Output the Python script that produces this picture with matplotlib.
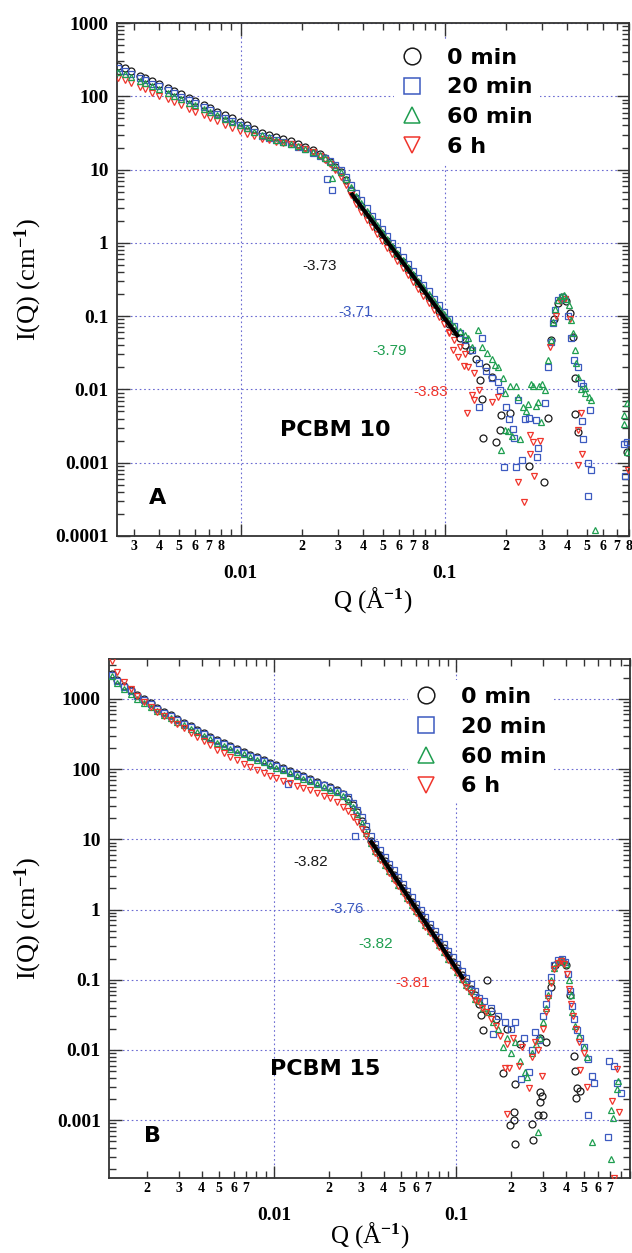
import numpy as np
import matplotlib
matplotlib.use("Agg")
import matplotlib.pyplot as plt
from matplotlib.lines import Line2D
from matplotlib.ticker import LogLocator, FixedLocator, FuncFormatter, NullFormatter


# =========================
# data : panel A (PCBM 10)
# =========================
Q_A = [0.0025, 0.0027, 0.0029, 0.0032, 0.0034, 0.0037, 0.0040, 0.0044, 0.0047, 0.0051,
       0.0056, 0.0060, 0.0066, 0.0071, 0.0077, 0.0084, 0.0091, 0.0099, 0.0107, 0.0117,
       0.0127, 0.0138, 0.0149, 0.0162, 0.0176, 0.0191, 0.0208, 0.0226, 0.0245,
       0.0260, 0.0276, 0.0292, 0.0310, 0.0328, 0.0348, 0.0369, 0.0391, 0.0415, 0.0440,
       0.0466, 0.0494, 0.0524, 0.0555, 0.0588, 0.0624, 0.0661, 0.0701, 0.0743, 0.0788,
       0.0835, 0.0885, 0.0938, 0.0995, 0.1055, 0.1118, 0.1185, 0.1256]

I_A_0MIN = [262, 240, 218, 192, 178, 160, 145, 129, 118, 106,
            94, 86, 76, 69, 62, 55, 50, 44, 40, 35.5,
            32, 29.5, 27.5, 26, 24.5, 22.5, 20.5, 18.5, 16.3,
            14.5, 12.8, 11.0, 9.2, 7.2, 5.3, 4.1, 3.2, 2.5, 2.0,
            1.62, 1.31, 1.05, 0.85, 0.68, 0.545, 0.44, 0.352, 0.283, 0.228,
            0.184, 0.147, 0.119, 0.096, 0.077, 0.062, 0.050, 0.040]
I_A_20MIN = [243, 224, 204, 180, 166, 149, 136, 121, 111, 99,
             88, 80, 71, 64, 58, 51, 46, 41, 37, 32.5,
             29, 27, 25.5, 23.5, 22, 20.5, 19, 17, 15.5,
             14.2, 12.9, 11.4, 9.8, 8.0, 6.2, 4.8, 3.8, 2.95, 2.36,
             1.91, 1.55, 1.24, 1.0, 0.80, 0.64, 0.52, 0.415, 0.334, 0.27,
             0.217, 0.174, 0.14, 0.113, 0.091, 0.073, 0.059, 0.047]
I_A_60MIN = [215, 199, 183, 163, 151, 136, 124, 111, 102, 92,
             82, 75, 67, 61, 55, 49, 44.5, 40, 36.5, 32.5,
             29.5, 27.5, 25.5, 24, 22.5, 21, 19.3, 17.5, 15.8,
             14.2, 12.6, 10.9, 9.3, 7.5, 5.8, 4.4, 3.45, 2.7, 2.16,
             1.75, 1.41, 1.13, 0.92, 0.73, 0.59, 0.475, 0.38, 0.305, 0.246,
             0.199, 0.16, 0.13, 0.106, 0.088, 0.074, 0.063, 0.055]
I_A_6H = [180, 165, 151, 134, 124, 112, 102, 91, 84, 76,
          68, 62, 55, 50, 45.5, 41, 37, 33.5, 31, 28.5,
          26.5, 25, 24, 23, 22, 20.5, 19, 17.2, 15.5,
          13.6, 11.8, 9.9, 8.0, 6.1, 4.5, 3.35, 2.6, 2.05, 1.64,
          1.33, 1.07, 0.86, 0.70, 0.56, 0.45, 0.36, 0.29, 0.232, 0.187,
          0.151, 0.12, 0.096, 0.077, 0.06, 0.048, 0.038, 0.030]

# noisy high-Q points and outliers
QX_A_0MIN = [0.133, 0.142, 0.149, 0.152, 0.154, 0.160, 0.170, 0.178, 0.186, 0.190,
             0.209, 0.260, 0.306, 0.320, 0.331, 0.345, 0.360, 0.380, 0.395, 0.410,
             0.426, 0.434, 0.437, 0.450, 0.780]
IX_A_0MIN = [0.034, 0.026, 0.0134, 0.0075, 0.0022, 0.0204, 0.015, 0.0019, 0.0028, 0.0045,
             0.0047, 0.00091, 0.00055, 0.0041, 0.047, 0.09, 0.15, 0.18, 0.16, 0.11,
             0.052, 0.0141, 0.0046, 0.0026, 0.0014]
QX_A_20MIN = [0.0265, 0.028, 0.136, 0.147, 0.147, 0.152, 0.160, 0.170, 0.183, 0.186,
              0.195, 0.200, 0.208, 0.217, 0.220, 0.224, 0.230, 0.240, 0.248, 0.260,
              0.280, 0.283, 0.287, 0.310, 0.322, 0.334, 0.340, 0.349, 0.360, 0.375,
              0.390, 0.405, 0.418, 0.430, 0.450, 0.467, 0.476, 0.517, 0.471, 0.476,
              0.503, 0.523, 0.503, 0.755, 0.770, 0.780]
IX_A_20MIN = [7.4, 5.2, 0.034, 0.0058, 0.0226, 0.050, 0.018, 0.0141, 0.0127, 0.0098,
              0.00088, 0.0058, 0.0040, 0.0029, 0.0022, 0.00088, 0.0072, 0.0011, 0.0040, 0.0041,
              0.0038, 0.0012, 0.0016, 0.0065, 0.020, 0.045, 0.080, 0.120, 0.165, 0.185,
              0.170, 0.100, 0.050, 0.025, 0.0204, 0.0121, 0.011, 0.0052, 0.0037, 0.0021,
              0.0010, 0.0008, 0.00035, 0.0018, 0.00065, 0.0019]
QX_A_60MIN = [0.028, 0.130, 0.136, 0.1465, 0.152, 0.162, 0.170, 0.177, 0.183, 0.190, 0.193,
              0.198, 0.198, 0.205, 0.209, 0.213, 0.225, 0.230, 0.234, 0.243, 0.252,
              0.257, 0.265, 0.270, 0.280, 0.287, 0.290, 0.297, 0.300, 0.310, 0.320,
              0.331, 0.340, 0.349, 0.360, 0.371, 0.384, 0.395, 0.406, 0.418, 0.426,
              0.434, 0.442, 0.451, 0.465, 0.486, 0.490, 0.513, 0.520, 0.546, 0.755,
              0.760, 0.780, 0.780]
IX_A_60MIN = [7.6, 0.050, 0.038, 0.064, 0.038, 0.031, 0.026, 0.0215, 0.020, 0.0015, 0.0141,
              0.0089, 0.0028, 0.0027, 0.011, 0.0023, 0.011, 0.008, 0.0021, 0.0058, 0.005,
              0.0064, 0.012, 0.011, 0.006, 0.0068, 0.011, 0.0036, 0.012, 0.0098, 0.025,
              0.047, 0.084, 0.127, 0.166, 0.187, 0.193, 0.174, 0.141, 0.088, 0.058,
              0.035, 0.0226, 0.0148, 0.0102, 0.0088, 0.0104, 0.0079, 0.0072, 0.00012, 0.0034,
              0.0045, 0.0065, 0.0014]
QX_A_6H = [0.105, 0.110, 0.117, 0.124, 0.129, 0.131, 0.136, 0.139, 0.140, 0.147,
           0.170, 0.183, 0.230, 0.245, 0.263, 0.263, 0.270, 0.275, 0.294, 0.330,
           0.350, 0.370, 0.390, 0.410, 0.449, 0.450, 0.467, 0.470, 0.790]
IX_A_6H = [0.058, 0.034, 0.028, 0.021, 0.0047, 0.020, 0.0084, 0.0072, 0.0165, 0.0098,
           0.0068, 0.0079, 0.00054, 0.00029, 0.0024, 0.0013, 0.0019, 0.00066, 0.0020, 0.038,
           0.10, 0.16, 0.17, 0.09, 0.00093, 0.0028, 0.0047, 0.0013, 0.0008]

FIT_A_Q = [0.0348, 0.117]
FIT_A_I = [4.8, 0.052]
SLOPES_A = ["-3.73", "-3.71", "-3.79", "-3.83"]

# =========================
# data : panel B (PCBM 15)
# =========================
Q_B = [0.00128, 0.00138, 0.00150, 0.00163, 0.00177, 0.00193, 0.0021, 0.00228, 0.00248, 0.0027,
       0.00294, 0.0032, 0.00348, 0.00378, 0.00411, 0.00447, 0.00486, 0.00529, 0.00575, 0.00625,
       0.0068, 0.0074, 0.00805, 0.00875, 0.0095, 0.0103, 0.0112, 0.0122, 0.0133, 0.0145,
       0.0158, 0.0172, 0.0187, 0.0203, 0.0221, 0.024,
       0.0255, 0.027, 0.0286, 0.0303, 0.0321, 0.034, 0.036, 0.0381, 0.0404, 0.0428,
       0.0453, 0.048, 0.0508, 0.0538, 0.057, 0.0604, 0.064, 0.0678, 0.0718, 0.076,
       0.0805, 0.0853, 0.0903, 0.0956, 0.1013, 0.1073, 0.1136, 0.1203, 0.1274]

I_B_0MIN = [2250, 1850, 1550, 1320, 1150, 1000, 860, 750, 660, 585,
            515, 455, 405, 362, 322, 287, 258, 232, 210, 192,
            175, 160, 148, 136, 124, 113, 103, 94, 86, 79,
            72, 66, 60, 55, 50, 44,
            38, 31, 24.5, 18.5, 13.5, 9.6, 7.5, 6.05, 4.85, 3.9,
            3.13, 2.51, 2.02, 1.62, 1.30, 1.04, 0.84, 0.67, 0.54, 0.434,
            0.348, 0.279, 0.225, 0.181, 0.145, 0.116, 0.093, 0.075, 0.060]
I_B_20MIN = [2200, 1800, 1500, 1280, 1110, 970, 835, 728, 640, 568,
             500, 442, 393, 351, 312, 278, 250, 225, 204, 186,
             170, 155, 143, 131, 120, 109, 100, 91, 83, 76,
             70, 64, 59, 54, 49, 44,
             40, 33, 26.5, 20.5, 15.3, 11.2, 8.6, 7.0, 5.6, 4.5,
             3.6, 2.9, 2.32, 1.86, 1.5, 1.2, 0.97, 0.77, 0.62, 0.5,
             0.4, 0.32, 0.26, 0.208, 0.167, 0.133, 0.107, 0.086, 0.069]
I_B_60MIN = [2150, 1700, 1400, 1190, 1010, 870, 755, 665, 590, 528,
             470, 418, 373, 333, 297, 265, 238, 214, 194, 177,
             162, 148, 136, 125, 115, 105, 96, 88, 80, 73,
             67, 61.5, 56, 51, 46.5, 41,
             35.5, 29, 23, 17.2, 12.4, 8.8, 6.75, 5.45, 4.37, 3.5,
             2.82, 2.26, 1.82, 1.46, 1.17, 0.94, 0.76, 0.6, 0.49, 0.39,
             0.313, 0.25, 0.2, 0.163, 0.13, 0.104, 0.084, 0.068, 0.054]
I_B_6H = [3500, 2400, 1750, 1400, 1100, 900, 770, 660, 575, 500,
          435, 380, 330, 288, 250, 218, 190, 167, 148, 133,
          119, 107, 97, 88, 80, 74, 68, 63, 58, 54,
          50, 46, 42, 38.5, 34, 29,
          25, 21, 17.5, 14, 11, 8.4, 6.4, 5.15, 4.1, 3.3,
          2.66, 2.13, 1.72, 1.38, 1.1, 0.88, 0.71, 0.57, 0.46, 0.37,
          0.296, 0.237, 0.19, 0.154, 0.123, 0.099, 0.079, 0.064, 0.051]

QX_B_0MIN = [0.133, 0.136, 0.140, 0.148, 0.155, 0.165, 0.180, 0.190, 0.197, 0.207,
             0.207, 0.210, 0.210, 0.225, 0.260, 0.265, 0.280, 0.287, 0.290, 0.290,
             0.294, 0.300, 0.310, 0.330, 0.350, 0.380, 0.400, 0.420, 0.443, 0.450,
             0.455, 0.460, 0.480]
IX_B_0MIN = [0.045, 0.031, 0.019, 0.10, 0.036, 0.028, 0.0047, 0.020, 0.00086, 0.0010,
             0.0013, 0.0033, 0.00046, 0.012, 0.00088, 0.00052, 0.0012, 0.0025, 0.0018, 0.015,
             0.0022, 0.0012, 0.013, 0.08, 0.16, 0.185, 0.16, 0.06, 0.0081, 0.005,
             0.0021, 0.0029, 0.0026]
QX_B_20MIN = [0.0278, 0.0119, 0.133, 0.142, 0.155, 0.160, 0.170, 0.185, 0.200, 0.210, 0.226,
              0.235, 0.250, 0.260, 0.270, 0.285, 0.300, 0.310, 0.320, 0.330, 0.345,
              0.360, 0.380, 0.395, 0.410, 0.420, 0.430, 0.445, 0.460, 0.480, 0.500,
              0.530, 0.530, 0.560, 0.570, 0.680, 0.690, 0.735, 0.760, 0.800]
IX_B_20MIN = [11.0, 62, 0.055, 0.050, 0.040, 0.017, 0.030, 0.025, 0.020, 0.0248, 0.0038,
              0.015, 0.0048, 0.010, 0.018, 0.014, 0.030, 0.045, 0.065, 0.11, 0.16,
              0.19, 0.20, 0.18, 0.12, 0.07, 0.042, 0.028, 0.019, 0.015, 0.011,
              0.0074, 0.0012, 0.0043, 0.0034, 0.00057, 0.007, 0.0059, 0.0034, 0.0024]
QX_B_60MIN = [0.133, 0.140, 0.150, 0.160, 0.170, 0.180, 0.190, 0.200, 0.210, 0.225,
              0.240, 0.245, 0.260, 0.275, 0.280, 0.290, 0.300, 0.310, 0.320, 0.330,
              0.345, 0.360, 0.380, 0.400, 0.415, 0.425, 0.435, 0.450, 0.470, 0.500,
              0.520, 0.560, 0.710, 0.710, 0.730, 0.760, 0.770]
IX_B_60MIN = [0.050, 0.040, 0.035, 0.025, 0.020, 0.011, 0.015, 0.009, 0.013, 0.007,
              0.0048, 0.0041, 0.009, 0.012, 0.00068, 0.015, 0.025, 0.040, 0.060, 0.10,
              0.145, 0.18, 0.19, 0.17, 0.10, 0.06, 0.035, 0.022, 0.016, 0.011,
              0.008, 0.00049, 0.00028, 0.0014, 0.00107, 0.0028, 0.0036]
QX_B_6H = [0.132, 0.138, 0.145, 0.155, 0.165, 0.175, 0.185, 0.190, 0.190, 0.196,
           0.205, 0.220, 0.230, 0.250, 0.260, 0.270, 0.280, 0.294, 0.300, 0.310,
           0.320, 0.330, 0.345, 0.360, 0.375, 0.390, 0.405, 0.415, 0.425, 0.440,
           0.455, 0.470, 0.480, 0.500, 0.520, 0.715, 0.735, 0.760, 0.780]
IX_B_6H = [0.050, 0.040, 0.035, 0.028, 0.022, 0.016, 0.0056, 0.00122, 0.012, 0.0056,
           0.015, 0.006, 0.011, 0.0029, 0.008, 0.013, 0.010, 0.0043, 0.020, 0.035,
           0.055, 0.09, 0.14, 0.175, 0.185, 0.17, 0.12, 0.075, 0.045, 0.030,
           0.020, 0.013, 0.0052, 0.009, 0.003, 0.0019, 0.00015, 0.0054, 0.0013]

FIT_B_Q = [0.0337, 0.1096]
FIT_B_I = [9.7, 0.102]
SLOPES_B = ["-3.82", "-3.76", "-3.82", "-3.81"]

LABELS = ["0 min", "20 min", "60 min", "6 h"]
X_MAJOR = [0.01, 0.1]
Y_MAJOR = [0.0001, 0.001, 0.01, 0.1, 1, 10, 100, 1000]


# =========================
# style
# =========================
MARKERS = ["o", "s", "^", "v"]
COLORS = ["#1a1a1a", "#3c5ac0", "#1f9e50", "#f0352c"]
GRID_COLOR = "#6b6bd2"

plt.rcParams["font.family"] = ["Liberation Serif", "DejaVu Serif"]
plt.rcParams["font.weight"] = "bold"
plt.rcParams["mathtext.fontset"] = "custom"
plt.rcParams["mathtext.rm"] = "Liberation Serif:bold"
plt.rcParams["mathtext.it"] = "Liberation Serif:bold"
plt.rcParams["mathtext.bf"] = "Liberation Serif:bold"

W, H = 632, 1253


def minor_formatter(digits):
    def fmt(v, pos):
        d = int(round(v / 10 ** np.floor(np.log10(v))))
        return str(d) if d in digits else ""
    return FuncFormatter(fmt)


def style_axes(ax, xlim, ylim, digits):
    ax.set_xscale("log")
    ax.set_yscale("log")
    ax.set_xlim(*xlim)
    ax.set_ylim(*ylim)

    ax.xaxis.set_major_locator(FixedLocator([v for v in X_MAJOR if xlim[0] <= v <= xlim[1]]))
    ax.xaxis.set_minor_locator(LogLocator(base=10, subs=np.arange(2, 10), numticks=15))
    ax.xaxis.set_major_formatter(FuncFormatter(lambda v, p: f"{v:g}"))
    ax.xaxis.set_minor_formatter(minor_formatter(digits))

    ax.yaxis.set_major_locator(FixedLocator([v for v in Y_MAJOR if ylim[0] <= v <= ylim[1]]))
    ax.yaxis.set_minor_locator(LogLocator(base=10, subs=np.arange(2, 10), numticks=15))
    ax.yaxis.set_major_formatter(FuncFormatter(lambda v, p: f"{v:g}"))
    ax.yaxis.set_minor_formatter(NullFormatter())

    ax.tick_params(which="both", direction="in", top=True, right=True,
                   color="#333333", width=1.0)
    ax.tick_params(which="major", length=9)
    ax.tick_params(which="minor", length=5)
    ax.tick_params(axis="x", which="major", pad=21, labelsize=14)
    ax.tick_params(axis="x", which="minor", pad=3, labelsize=10)
    ax.tick_params(axis="y", which="major", pad=6, labelsize=14)

    for s in ax.spines.values():
        s.set_linewidth(1.3)
        s.set_color("#333333")

    ax.set_axisbelow(True)
    ax.grid(True, which="major", linestyle=(0, (1.5, 2.5)), color=GRID_COLOR, linewidth=0.8)


def draw_panel(ax, q_grid, series, extras, fit_q, fit_i, slopes, slope_pos,
               name, name_pos, letter, letter_pos, zorders, leg_anchor):
    for k in range(4):
        qx, ix = extras[k]
        for q, i in ((q_grid, series[k]), (qx, ix)):
            ax.plot(q, i, linestyle="none", marker=MARKERS[k], mfc="none",
                    mec=COLORS[k], ms=5.0, mew=0.9, zorder=zorders[k])

    ax.plot(fit_q, fit_i, color="black", linewidth=3.0, zorder=8,
            solid_capstyle="butt")

    for k, (txt, (x, y)) in enumerate(zip(slopes, slope_pos)):
        ax.text(x, y, txt, color=COLORS[k], fontsize=11, family="Liberation Sans",
                fontweight="normal", ha="center", va="center", zorder=12)

    ax.text(*name_pos, name, family="DejaVu Sans", fontweight="bold",
            fontsize=16, ha="center", va="center", zorder=12)
    ax.text(*letter_pos, letter, family="DejaVu Sans", fontweight="bold",
            fontsize=16, ha="center", va="center", zorder=12)

    handles = [Line2D([], [], linestyle="none", marker=MARKERS[k], mfc="none",
                      mec=COLORS[k], ms=12, mew=1.1) for k in range(4)]
    leg = ax.legend(handles, LABELS, loc="upper left", bbox_to_anchor=leg_anchor,
                    prop={"family": "DejaVu Sans", "weight": "bold", "size": 16},
                    frameon=True, facecolor="white", edgecolor="none", framealpha=1,
                    fancybox=False, borderpad=0.3, borderaxespad=0,
                    handlelength=1.0, handletextpad=1.1, labelspacing=0.44)
    leg.set_zorder(20)

    ax.set_ylabel("I(Q) (cm$^{-1}$)", fontsize=19)
    ax.set_xlabel("Q (Å$^{-1}$)", fontsize=18)
    ax.xaxis.label.set_va("center")
    ax.yaxis.label.set_va("center")


def main():
    fig = plt.figure(figsize=(W / 100, H / 100), dpi=100)

    # ---- panel A ----
    ax_a = fig.add_axes([117 / W, 1 - 536 / H, 512 / W, 513 / H])
    style_axes(ax_a, (0.00248, 0.802), (1e-4, 1e3), {2, 3, 4, 5, 6, 7, 8})
    draw_panel(
        ax_a, Q_A, [I_A_0MIN, I_A_20MIN, I_A_60MIN, I_A_6H],
        [(QX_A_0MIN, IX_A_0MIN), (QX_A_20MIN, IX_A_20MIN),
         (QX_A_60MIN, IX_A_60MIN), (QX_A_6H, IX_A_6H)],
        FIT_A_Q, FIT_A_I, SLOPES_A,
        [(0.0243, 0.48), (0.0368, 0.115), (0.054, 0.0335), (0.0855, 0.0092)],
        "PCBM 10", (0.0293, 0.0028), "A", (0.0039, 0.00033),
        zorders=[3, 4, 6, 5], leg_anchor=(0.541, 0.965),
    )
    ax_a.yaxis.set_label_coords(-0.174, 0.5)
    ax_a.xaxis.set_label_coords(0.5, -0.125)

    # ---- panel B ----
    ax_b = fig.add_axes([109 / W, 1 - 1178 / H, 521 / W, 519 / H])
    style_axes(ax_b, (0.00124, 0.9), (1.5e-4, 3700), {2, 3, 4, 5, 6, 7})
    draw_panel(
        ax_b, Q_B, [I_B_0MIN, I_B_20MIN, I_B_60MIN, I_B_6H],
        [(QX_B_0MIN, IX_B_0MIN), (QX_B_20MIN, IX_B_20MIN),
         (QX_B_60MIN, IX_B_60MIN), (QX_B_6H, IX_B_6H)],
        FIT_B_Q, FIT_B_I, SLOPES_B,
        [(0.0158, 4.7), (0.0251, 1.02), (0.0359, 0.327), (0.058, 0.0886)],
        "PCBM 15", (0.019, 0.0054), "B", (0.00215, 0.00059),
        zorders=[3, 4, 5, 6], leg_anchor=(0.574, 0.959),
    )
    ax_b.yaxis.set_label_coords(-0.1555, 0.5)
    ax_b.xaxis.set_label_coords(0.5, -0.11)

    fig.savefig("out.png", dpi=100)
    plt.close(fig)


if __name__ == "__main__":
    main()
